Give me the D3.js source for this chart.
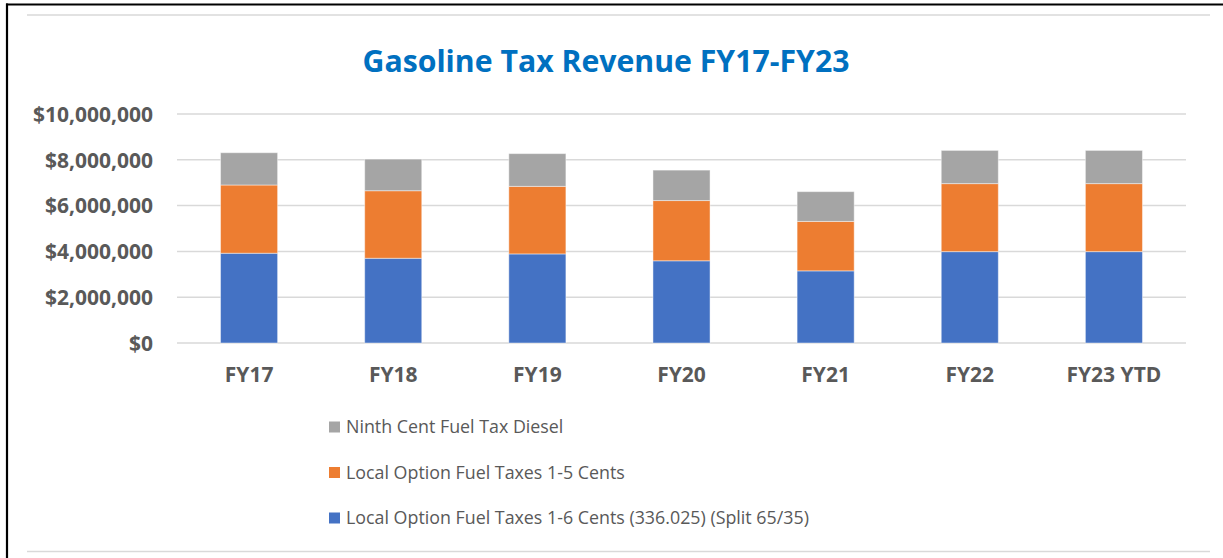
<!DOCTYPE html>
<html>
<head>
<meta charset="utf-8">
<script src="https://cdn.jsdelivr.net/npm/d3@7"></script>
<style>
  html, body { margin: 0; padding: 0; background: #fff; }
  svg { display: block; }
  text { font-family: "Open Sans", "Liberation Sans", sans-serif; }
</style>
</head>
<body>
<script>
// ---- Data ----
const categories = ["FY17", "FY18", "FY19", "FY20", "FY21", "FY22", "FY23 YTD"];
const localOption16 = [3920000, 3700000, 3890000, 3590000, 3150000, 3990000, 3990000];
const localOption15 = [2980000, 2950000, 2950000, 2630000, 2160000, 2970000, 2970000];
const ninthCent     = [1410000, 1380000, 1430000, 1330000, 1300000, 1450000, 1450000];
const seriesNames = [
  "Local Option Fuel Taxes 1-6 Cents (336.025) (Split 65/35)",
  "Local Option Fuel Taxes 1-5 Cents",
  "Ninth Cent Fuel Tax Diesel"
];
const seriesColors = ["#4472C4", "#ED7D31", "#A5A5A5"];
const yTicks = [0, 2000000, 4000000, 6000000, 8000000, 10000000];
const title = "Gasoline Tax Revenue FY17-FY23";

// ---- Setup ----
const W = 1223, H = 558;
const svg = d3.select("body").append("svg").attr("width", W).attr("height", H);

// frame
svg.append("line").attr("x1", 6).attr("x2", W).attr("y1", 4.5).attr("y2", 4.5)
  .attr("stroke", "#000").attr("stroke-width", 2.2);
svg.append("line").attr("x1", 7).attr("x2", 7).attr("y1", 3.5).attr("y2", H)
  .attr("stroke", "#000").attr("stroke-width", 2.2);
[15, 551.5].forEach(yy => {
  svg.append("line").attr("x1", 27).attr("x2", 1210).attr("y1", yy).attr("y2", yy)
    .attr("stroke", "#D9D9D9").attr("stroke-width", 1.5);
});

const plotL = 177, plotR = 1186, plotB = 343, plotT = 114;
const x = d3.scaleBand().domain(categories).range([plotL, plotR]).paddingInner(0.604).paddingOuter(0.302);
const y = d3.scaleLinear().domain([0, 10000000]).range([plotB, plotT]);

// gridlines
svg.append("g").selectAll("line").data(yTicks).join("line")
  .attr("x1", plotL).attr("x2", plotR)
  .attr("y1", d => y(d)).attr("y2", d => y(d))
  .attr("stroke", "#D9D9D9").attr("stroke-width", 1.5);

// stacked bars
const rows = categories.map((c, i) => ({ cat: c, s0: localOption16[i], s1: localOption15[i], s2: ninthCent[i] }));
const stack = d3.stack().keys(["s0", "s1", "s2"]);
const layers = stack(rows);
svg.append("g").selectAll("g").data(layers).join("g")
  .attr("fill", (d, i) => seriesColors[i])
  .selectAll("rect").data(d => d).join("rect")
  .attr("x", d => x(d.data.cat))
  .attr("width", x.bandwidth())
  .attr("y", d => y(d[1]))
  .attr("height", d => y(d[0]) - y(d[1]))
  .attr("stroke", "#ffffff").attr("stroke-opacity", 0.45).attr("stroke-width", 1);

// fit helper
function fitSize(sel, target) {
  const n = sel.node();
  const fs = parseFloat(sel.attr("font-size"));
  const w = n.getComputedTextLength();
  return fs * target / w;
}

// y axis labels
const fmt = d => "$" + d3.format(",")(d);
const yAxis = svg.append("g").attr("transform", `translate(153,0)`)
  .call(d3.axisLeft(y).tickValues(yTicks).tickFormat(fmt).tickSize(0).tickPadding(0));
yAxis.select(".domain").remove();
const probe = svg.append("text").attr("font-size", 20).attr("font-weight", "bold").text("$10,000,000");
const tickFs = fitSize(probe, 120);
probe.remove();
yAxis.selectAll("text")
  .attr("font-family", "'Open Sans', sans-serif")
  .attr("font-size", tickFs).attr("font-weight", "bold").attr("fill", "#595959")
  .attr("dy", "0.35em");

// x axis labels
const xAxis = svg.append("g").attr("transform", `translate(0,${plotB})`)
  .call(d3.axisBottom(x).tickSize(0).tickPadding(0));
xAxis.select(".domain").remove();
xAxis.selectAll("text")
  .attr("font-family", "'Open Sans', sans-serif")
  .attr("font-size", tickFs).attr("font-weight", "bold").attr("fill", "#595959")
  .attr("dy", null).attr("y", 382 - plotB);

// title
const t = svg.append("text").attr("x", 606).attr("y", 71.5).attr("text-anchor", "middle")
  .attr("font-size", 30).attr("font-weight", "bold").attr("fill", "#0070C0").text(title);
t.attr("font-size", fitSize(t, 487));

// legend (reverse order: gray at top)
const legendRows = [2, 1, 0];
const legendY = [427, 472.5, 518];
const lp = svg.append("text").attr("font-size", 20).text(seriesNames[0]);
const legFs = fitSize(lp, 463);
lp.remove();
const lg = svg.append("g");
legendRows.forEach((si, k) => {
  lg.append("rect").attr("x", 329).attr("y", legendY[k] - 5.5).attr("width", 11).attr("height", 11)
    .attr("fill", seriesColors[si]);
  lg.append("text").attr("x", 346).attr("y", legendY[k]).attr("dy", "0.35em")
    .attr("font-size", legFs).attr("fill", "#595959").text(seriesNames[si]);
});
</script>
</body>
</html>
